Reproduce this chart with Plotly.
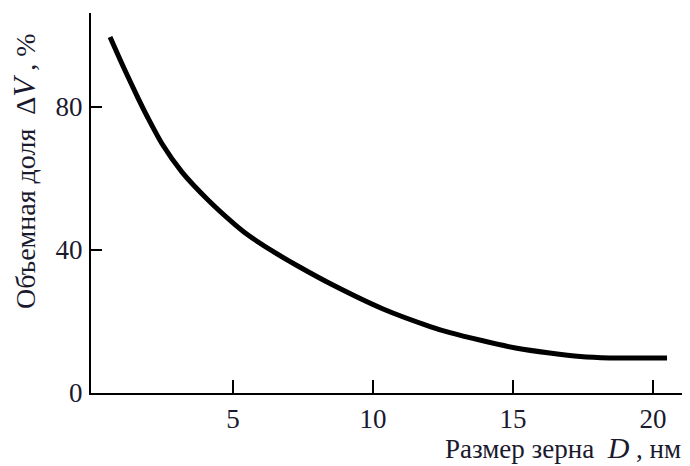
import plotly.graph_objects as go

# Data
grain_size_nm = [0.61, 1.1, 1.61, 1.96, 2.46, 3.18, 4.11, 5.0, 5.5, 6.43, 7.3,
                 8.57, 10.36, 12.04, 12.75, 15.14, 17.4, 18.46, 20.5]
volume_fraction_pct = [99.6, 91.0, 82.5, 77.0, 69.8, 61.8, 54.0, 47.6, 44.4, 39.6, 35.6,
                       30.2, 23.5, 18.6, 16.9, 12.5, 10.2, 9.8, 9.8]
x_ticks = [5, 10, 15, 20]
y_ticks = [0, 40, 80]

serif = "Liberation Serif"
ink = "#1a1a2e"

fig = go.Figure()
fig.add_trace(go.Scatter(
    x=grain_size_nm, y=volume_fraction_pct, mode="lines",
    line=dict(color="black", width=5, shape="spline", smoothing=0.7),
    hoverinfo="skip", showlegend=False,
))

# page body has an 8px margin, so the figure is 682x458 and offset by 8px
fig.update_layout(
    width=682, height=458,
    margin=dict(l=83, r=0, t=5, b=73),
    paper_bgcolor="white", plot_bgcolor="white",
    showlegend=False,
    xaxis=dict(
        range=[-0.07, 21.32], tickvals=x_ticks, ticks="inside", ticklen=13, tickwidth=2,
        tickcolor="black", showline=True, linecolor="black", linewidth=2,
        showgrid=False, zeroline=False,
        tickfont=dict(family=serif, size=27, color=ink), ticklabelstandoff=1,
    ),
    yaxis=dict(
        range=[0, 106.3], tickvals=y_ticks, ticks="inside", ticklen=11, tickwidth=2,
        tickcolor="black", showline=True, linecolor="black", linewidth=2,
        showgrid=False, zeroline=False,
        tickfont=dict(family=serif, size=27, color=ink), ticklabelstandoff=1,
    ),
    annotations=[
        dict(
            text="Размер зерна&nbsp; <span style='font-size:30px'><i>D</i></span> , нм",
            xref="paper", yref="paper", x=1.0, y=0, xanchor="right", yanchor="middle",
            yshift=-54, xshift=-7, showarrow=False,
            font=dict(family=serif, size=27, color=ink),
        ),
        dict(
            text="Объемная доля&nbsp; Δ<span style='font-size:31px'><i>V</i></span> , %",
            xref="paper", yref="paper", x=0, y=0.584, xanchor="center", yanchor="middle",
            xshift=-67, textangle=-90, showarrow=False,
            font=dict(family=serif, size=28, color=ink),
        ),
    ],
)

fig.write_html("out.html")
